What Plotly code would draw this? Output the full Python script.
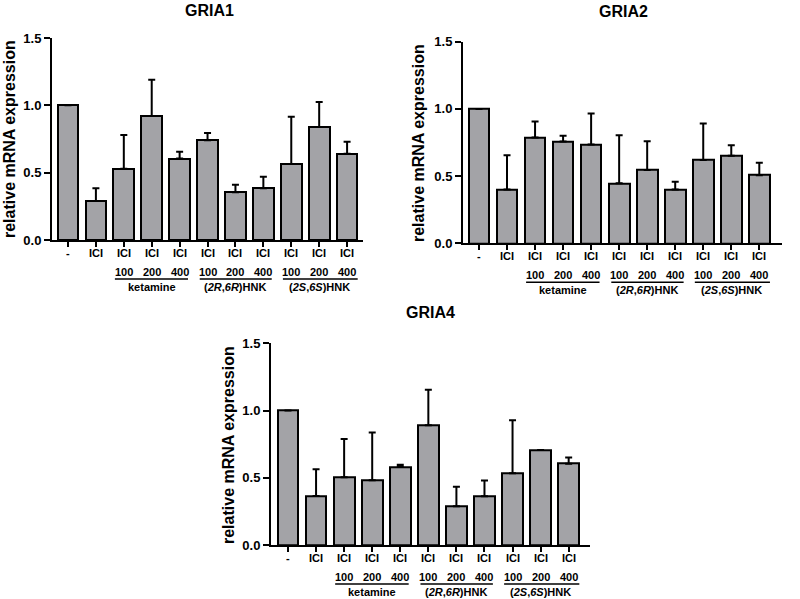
import plotly.graph_objects as go

# valeurs (moyenne + erreur haute)
categories = ["-", "ICI", "ICI", "ICI", "ICI", "ICI", "ICI", "ICI", "ICI", "ICI", "ICI"]
doses = ["100", "200", "400"]
groups = ["ketamine", "(<i>2R</i>,<i>6R</i>)HNK", "(<i>2S</i>,<i>6S</i>)HNK"]

gria1_mean = [1.0, 0.29, 0.53, 0.92, 0.605, 0.74, 0.355, 0.385, 0.565, 0.84, 0.64]
gria1_err = [0, 0.095, 0.25, 0.27, 0.05, 0.055, 0.055, 0.085, 0.35, 0.185, 0.09]

gria2_mean = [1.0, 0.40, 0.787, 0.757, 0.735, 0.446, 0.545, 0.40, 0.619, 0.651, 0.507]
gria2_err = [0, 0.256, 0.12, 0.043, 0.23, 0.358, 0.215, 0.058, 0.272, 0.079, 0.092]

gria4_mean = [1.0, 0.365, 0.504, 0.481, 0.581, 0.891, 0.288, 0.362, 0.533, 0.707, 0.605]
gria4_err = [0, 0.198, 0.285, 0.355, 0.015, 0.263, 0.146, 0.117, 0.395, 0, 0.045]

W, H = 800, 599
FONT = "Liberation Sans, Arial, sans-serif"
BAR = "#a3a3a7"

# panneaux : nom, données, domaine en pixels (x0, x1, y_haut, y_bas), plage x, titre, label y
panels = [
    ("GRIA1", gria1_mean, gria1_err, (52, 363, 38, 240), (-0.573, 10.57), (209, 10), (10, 139)),
    ("GRIA2", gria2_mean, gria2_err, (463, 782, 41.7, 243.3), (-0.571, 10.81), (623, 11), (419, 143)),
    ("GRIA4", gria4_mean, gria4_err, (271, 590, 343.3, 545), (-0.606, 10.76), (431, 312), (228, 445)),
]


def py(p):
    return 1 - p / H


def note(text, x, y, xref, size=11, angle=0):
    return dict(text=text, x=x, y=y, xref=xref, yref="paper", showarrow=False,
                xanchor="center", yanchor="middle", textangle=angle,
                font=dict(family=FONT, size=size, color="black"))


fig = go.Figure()
annotations = []
shapes = []

for i, (name, mean, err, dom, xr, tpos, ypos) in enumerate(panels):
    n = "" if i == 0 else str(i + 1)
    x0, x1, yt, yb = dom
    fig.add_trace(go.Bar(
        x=list(range(len(mean))), y=mean, width=0.74,
        marker=dict(color=BAR, line=dict(color="black", width=2)),
        error_y=dict(type="data", symmetric=False, array=err, arrayminus=[0] * len(err),
                     color="black", thickness=2, width=3.5),
        xaxis="x" + n, yaxis="y" + n, showlegend=False,
    ))
    fig.layout["xaxis" + n] = dict(
        domain=[x0 / W, x1 / W], range=list(xr), anchor="y" + n, automargin=False,
        showline=True, linecolor="black", linewidth=2, showgrid=False, zeroline=False,
        ticks="outside", ticklen=5, tickwidth=2, tickcolor="black",
        tickvals=list(range(11)), showticklabels=False,
    )
    fig.layout["yaxis" + n] = dict(
        domain=[py(yb), py(yt)], range=[0, 1.5], anchor="x" + n, automargin=False,
        showline=True, linecolor="black", linewidth=2, showgrid=False, zeroline=False,
        ticks="outside", ticklen=6, tickwidth=2, tickcolor="black",
        tickvals=[0, 0.5, 1.0, 1.5], ticktext=["0.0", "0.5", "1.0", "1.5"],
        tickfont=dict(family=FONT, size=13, color="black", weight="bold"),
    )

    # titre et label de l'axe y
    annotations.append(note("<b>" + name + "</b>", tpos[0] / W, py(tpos[1]), "paper", 16))
    annotations.append(note("<b>relative mRNA expression</b>", ypos[0] / W, py(ypos[1]), "paper", 16, -90))

    # étiquettes sous l'axe x
    xref = "x" + n
    for k, cat in enumerate(categories):
        annotations.append(note("<b>" + cat + "</b>", k, py(yb + 13), xref))
    annotations.append(note("<b>10<sup>-7</sup>M</b>", 10.95, py(yb + 13), xref))
    annotations.append(note("<b>(nM)</b>", 10.95, py(yb + 32), xref))
    spans = [(1.68, 4.3), (4.72, 7.3), (7.7, 10.38)]
    for g, (gname, (s0, s1)) in enumerate(zip(groups, spans)):
        for d, dose in enumerate(doses):
            annotations.append(note("<b>" + dose + "</b>", 2 + 3 * g + d, py(yb + 32), xref))
        annotations.append(note("<b>" + gname + "</b>", 3 + 3 * g, py(yb + 47), xref))
        shapes.append(dict(type="line", xref=xref, yref="paper", x0=s0, x1=s1,
                           y0=py(yb + 39), y1=py(yb + 39), line=dict(color="black", width=1.5)))

fig.update_layout(
    width=W, height=H, margin=dict(l=0, r=0, t=0, b=0),
    paper_bgcolor="white", plot_bgcolor="white",
    annotations=annotations, shapes=shapes, bargap=0,
)

# pas de marge autour de la figure dans la page, pas de barre d'outils
fig.write_html("out.html", config={"displayModeBar": False},
               post_script="document.body.style.margin='0';")
